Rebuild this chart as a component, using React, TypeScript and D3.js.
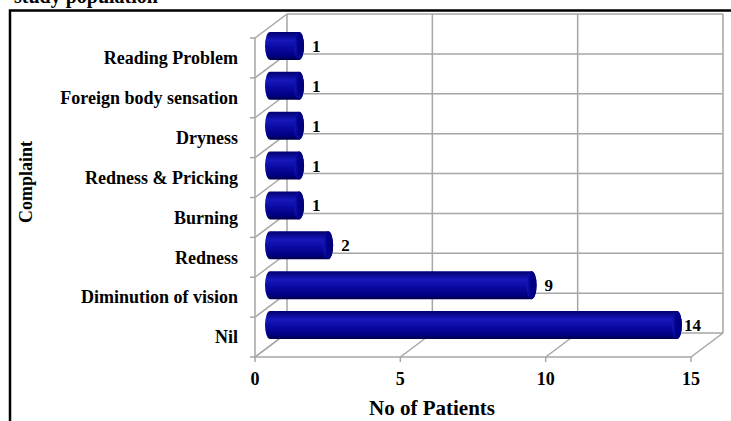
import React from 'react';
import * as d3 from 'd3';

// complaints, bottom to top as drawn
const categories = ['Nil', 'Diminution of vision', 'Redness', 'Burning', 'Redness & Pricking', 'Dryness', 'Foreign body sensation', 'Reading Problem'];
const patients = [14, 9, 2, 1, 1, 1, 1, 1];
const xTicks = [0, 5, 10, 15];

const W = 731;
const H = 421;

// front plane of the 3D box
const left = 255;
const right = 691;
const top = 38;
const bottom = 357;
// depth offset (back wall)
const dx = 32;
const dy = -24;

const serif = '"Liberation Serif", "Times New Roman", serif';
const grid = '#a6a6a6';

export default function App() {
  const x = d3.scaleLinear().domain([0, 15]).range([left, right]);
  const y = d3.scaleBand().domain(categories.slice().reverse()).range([top, bottom]).paddingInner(0).paddingOuter(0);
  const bounds = y.domain().map(c => y(c) as number).concat([bottom]);

  const barH = y.bandwidth() * 0.7;
  const rx = 5;
  const mx = dx / 2 - 1;
  const my = dy / 2;

  const cyl = (v: number, c: string) => {
    const cy = (y(c) as number) + y.bandwidth() / 2 + my;
    const x0 = x(0) + mx;
    const x1 = x(v) + mx;
    const t = cy - barH / 2;
    const b = cy + barH / 2;
    const ry = barH / 2;
    const p = `M${x0},${t}L${x1},${t}A${rx},${ry} 0 0 1 ${x1},${b}L${x0},${b}A${rx},${ry} 0 0 1 ${x0},${t}Z`;
    return { p, cy, x1, ry };
  };

  return (
    <svg width={W} height={H} style={{ position: 'absolute', left: 0, top: 0, background: '#fff' }}>
      <defs>
        <linearGradient id="body" x1="0" y1="0" x2="0" y2="1">
          <stop offset="0" stopColor="#000070" />
          <stop offset="0.3" stopColor="#1818bc" />
          <stop offset="0.55" stopColor="#0a0aa4" />
          <stop offset="0.85" stopColor="#000082" />
          <stop offset="1" stopColor="#00004a" />
        </linearGradient>
        <linearGradient id="cap" x1="0" y1="0" x2="1" y2="0">
          <stop offset="0" stopColor="#1818b0" />
          <stop offset="0.4" stopColor="#000090" />
          <stop offset="1" stopColor="#000070" />
        </linearGradient>
      </defs>

      {/* title, cut off at top */}
      <text x={14} y={3} fontFamily={serif} fontWeight="bold" fontSize={20}>study population</text>

      {/* outer frame */}
      <rect x={10} y={10.5} width={W + 20} height={H + 20} fill="none" stroke="#000" strokeWidth={2.5} />

      {/* back wall */}
      <g stroke={grid} strokeWidth={1.5} fill="none">
        {bounds.map((b, i) => (
          <line key={'bh' + i} x1={left + dx} x2={right + dx} y1={b + dy} y2={b + dy} />
        ))}
        {xTicks.map(t => (
          <line key={'bv' + t} x1={x(t) + dx} x2={x(t) + dx} y1={top + dy} y2={bottom + dy} />
        ))}
        {/* left wall */}
        <line x1={left} x2={left} y1={top} y2={bottom} />
        {bounds.map((b, i) => (
          <line key={'lw' + i} x1={left} x2={left + dx} y1={b} y2={b + dy} />
        ))}
        {bounds.map((b, i) => (
          <line key={'lt' + i} x1={left - 5} x2={left} y1={b} y2={b} />
        ))}
        {/* floor */}
        <line x1={left} x2={right} y1={bottom} y2={bottom} />
        {xTicks.map(t => (
          <line key={'fd' + t} x1={x(t)} x2={x(t) + dx} y1={bottom} y2={bottom + dy} />
        ))}
        {xTicks.map(t => (
          <line key={'ft' + t} x1={x(t)} x2={x(t)} y1={bottom} y2={bottom + 5} />
        ))}
      </g>

      {/* bars */}
      {categories.map((c, i) => {
        const s = cyl(patients[i], c);
        return (
          <g key={c}>
            <path d={s.p} fill="url(#body)" />
            <ellipse cx={s.x1} cy={s.cy} rx={rx} ry={s.ry} fill="url(#cap)" />
            <text
              x={Math.min(s.x1 + rx + 8, right - 7)}
              y={s.cy}
              dy="0.35em"
              fontFamily={serif}
              fontWeight="bold"
              fontSize={17}
            >
              {patients[i]}
            </text>
          </g>
        );
      })}

      {/* category labels */}
      {categories.map(c => (
        <text
          key={'cl' + c}
          x={238}
          y={(y(c) as number) + y.bandwidth() / 2}
          dy="0.35em"
          textAnchor="end"
          fontFamily={serif}
          fontWeight="bold"
          fontSize={18}
        >
          {c}
        </text>
      ))}

      {/* x tick labels */}
      {xTicks.map(t => (
        <text key={'xl' + t} x={x(t)} y={385} textAnchor="middle" fontFamily={serif} fontWeight="bold" fontSize={18}>
          {t}
        </text>
      ))}

      <text x={432} y={415} textAnchor="middle" fontFamily={serif} fontWeight="bold" fontSize={21}>No of Patients</text>
      <text transform="translate(32,182) rotate(-90)" textAnchor="middle" fontFamily={serif} fontWeight="bold" fontSize={18}>Complaint</text>
    </svg>
  );
}
